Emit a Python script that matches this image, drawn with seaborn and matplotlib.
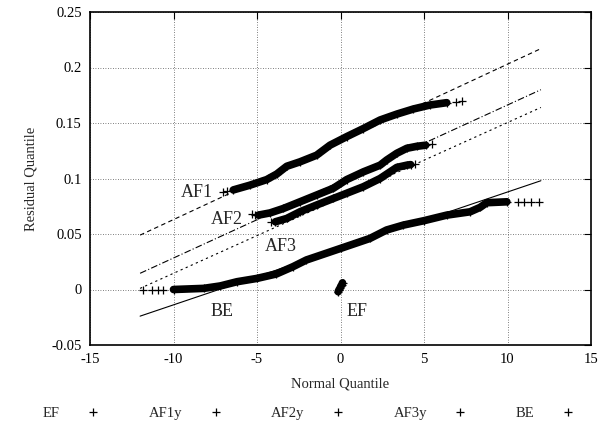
import matplotlib
matplotlib.use("Agg")
import matplotlib.pyplot as plt
import seaborn as sns
import numpy as np
from matplotlib.lines import Line2D

# ---- data ----
ef_x = [-0.14, -0.08, -0.03, 0.02, 0.07, 0.12]
ef_y = [-0.002, 0.000, 0.001, 0.003, 0.004, 0.006]

af1_x = [-7.05, -6.8, -6.42, -5.42, -4.42, -3.82, -3.22, -2.43, -1.43, -0.63, 0.37, 1.37,
         2.37, 3.37, 4.36, 5.36, 6.36, 6.9, 7.26]
af1_y = [0.088, 0.089, 0.0897, 0.094, 0.099, 0.104, 0.111, 0.115, 0.121, 0.130, 0.1377, 0.145,
         0.1527, 0.158, 0.1626, 0.1662, 0.1683, 0.169, 0.1698]

af2_x = [-5.32, -5.1, -4.92, -4.22, -3.42, -2.43, -1.43, -0.43, 0.37, 1.37, 2.37, 2.77,
         3.37, 3.97, 4.57, 5.1, 5.46]
af2_y = [0.068, 0.0675, 0.067, 0.069, 0.073, 0.079, 0.0851, 0.0912, 0.0990, 0.106, 0.112, 0.1167,
         0.1227, 0.1272, 0.129, 0.130, 0.1308]

af3_x = [-4.18, -3.9, -3.22, -2.43, -1.43, -0.43, 0.37, 1.37, 2.37, 2.97, 3.37, 3.97, 4.2, 4.46]
af3_y = [0.061, 0.061, 0.064, 0.070, 0.0761, 0.082, 0.0867, 0.0926, 0.100, 0.106, 0.110, 0.112,
         0.1125, 0.1128]

be_x = [-11.85, -11.3, -10.9, -10.6, -10.0, -8.2, -7.2, -6.2, -5.0, -3.84, -2.84, -2.04, 0.0,
        1.76, 2.76, 3.76, 5.0, 6.36, 7.76, 8.36, 8.76, 9.96, 10.6, 11.0, 11.4, 11.9]
be_y = [0.0, 0.0, 0.0, 0.0, 0.0, 0.001, 0.0032, 0.007, 0.010, 0.014, 0.0206, 0.0266, 0.037,
        0.046, 0.0536, 0.058, 0.062, 0.067, 0.070, 0.074, 0.0782, 0.079, 0.079, 0.079, 0.079, 0.079]

ref_x = [-12, 12]
af1_ref = [0.049, 0.217]
af2_ref = [0.0146, 0.180]
af3_ref = [0.001, 0.164]
be_ref = [-0.024, 0.098]

x_ticks = [-15, -10, -5, 0, 5, 10, 15]
y_ticks = [-0.05, 0, 0.05, 0.1, 0.15, 0.2, 0.25]
x_ticklabels = ["-15", "-10", "-5", "0", "5", "10", "15"]
y_ticklabels = ["-0.05", "0", "0.05", "0.1", "0.15", "0.2", "0.25"]

legend_labels = ["EF", "AF1y", "AF2y", "AF3y", "BE"]

# ---- style ----
sns.set_theme(style="white")
plt.rcParams["font.family"] = ["Liberation Serif", "DejaVu Serif"]
plt.rcParams["axes.unicode_minus"] = False

fig = plt.figure(figsize=(6.1, 4.25), dpi=100)
ax = fig.add_axes([90 / 610, 1 - 345 / 425, (591 - 90) / 610, (345 - 12) / 425])

ax.set_xlim(-15, 15)
ax.set_ylim(-0.05, 0.25)
ax.set_xticks(x_ticks)
ax.set_xticklabels(x_ticklabels)
ax.set_yticks(y_ticks)
ax.set_yticklabels(y_ticklabels)
ax.grid(True, color="#555555", linestyle=(0, (1, 2)), linewidth=0.6)
ax.tick_params(direction="in", length=5, width=0.8, top=True, right=True,
               labelsize=10.5, colors="black", pad=6)
for s in ax.spines.values():
    s.set_color("black")
    s.set_linewidth(1.2)

# reference lines
sns.lineplot(x=ref_x, y=af1_ref, ax=ax, color="black", lw=0.8, linestyle=(0, (4, 3)))
sns.lineplot(x=ref_x, y=af2_ref, ax=ax, color="black", lw=0.8, linestyle=(0, (6, 2, 1, 2)))
sns.lineplot(x=ref_x, y=af3_ref, ax=ax, color="black", lw=0.8, linestyle=(0, (2, 3)))
sns.lineplot(x=ref_x, y=be_ref, ax=ax, color="black", lw=0.8)

# dense quantile bands
series = [(ef_x, ef_y, 0, len(ef_x)),
          (af1_x, af1_y, 2, -2),
          (af2_x, af2_y, 2, -1),
          (af3_x, af3_y, 1, -1),
          (be_x, be_y, 4, -4)]
for xs, ys, a, b in series:
    sns.lineplot(x=xs[a:b], y=ys[a:b], ax=ax, color="black", lw=5.5, sort=False,
                 solid_capstyle="round", solid_joinstyle="round")
    sns.scatterplot(x=xs, y=ys, ax=ax, color="black", marker="+", s=40, linewidth=0.9)

# curve labels
ax.text(-8.6, 0.087, "AF1", fontsize=13, ha="center", va="center")
ax.text(-6.8, 0.0635, "AF2", fontsize=13, ha="center", va="center")
ax.text(-3.6, 0.0383, "AF3", fontsize=13, ha="center", va="center")
ax.text(-7.1, -0.020, "BE", fontsize=13, ha="center", va="center")
ax.text(0.96, -0.020, "EF", fontsize=13, ha="center", va="center")

ax.set_xlabel("Normal Quantile", fontsize=10.5, labelpad=8)
ax.set_ylabel("Residual Quantile", fontsize=10.5, labelpad=10)

handles = [Line2D([], [], color="black", marker="+", linestyle="None", markersize=6,
                  markeredgewidth=0.9) for _ in legend_labels]
fig.legend(handles, legend_labels, loc="center", bbox_to_anchor=(309 / 610, 1 - 413 / 425),
           ncol=5, frameon=False, markerfirst=False, fontsize=10.5,
           columnspacing=3.3, handletextpad=1.8, handlelength=1.0)

fig.savefig("out.png", dpi=100)
